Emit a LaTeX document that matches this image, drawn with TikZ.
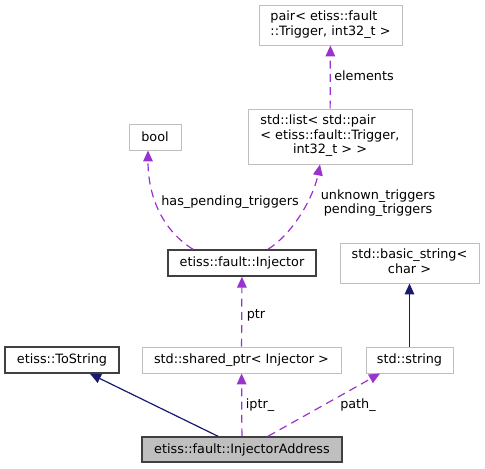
\documentclass[tikz,border=0pt]{standalone}
\usepackage{fontspec}
\setmainfont{DejaVu Sans}
\usepackage{xcolor}
\usetikzlibrary{arrows.meta,calc}
\definecolor{edgepurple}{HTML}{9A32CD}
\definecolor{edgenavy}{HTML}{191970}
\definecolor{boxgray}{HTML}{BFBFBF}
\definecolor{borderdark}{HTML}{404040}

\begin{document}
\begin{tikzpicture}[x=0.75pt,y=-0.75pt,font=\fontsize{9.6}{10.9}\selectfont,
  box/.style={draw=boxgray,line width=0.75pt,align=center,inner sep=0pt},
  cls/.style={box,draw=borderdark,line width=1.1pt},
  wd/.style={minimum width=#1*0.75pt},
  ht/.style={minimum height=#1*0.75pt},
  member/.style={edgepurple,line width=0.9pt,dash pattern=on 6pt off 4pt,-{Triangle[length=8.2pt,width=7.2pt]}},
  inherit/.style={edgenavy,line width=0.9pt,-{Triangle[length=8.2pt,width=7.2pt]}},
  lbl/.style={inner sep=0pt}]
  \useasboundingbox (0,0) rectangle (485,468);
  % classes
  \node[box,wd=143,ht=40] (pair) at (330.5,25) {\begin{tabular}{@{}l@{}}pair< etiss::fault\\\multicolumn{1}{@{}c@{}}{::Trigger, int32\_t >}\end{tabular}};
  \node[box,wd=164,ht=55] (list) at (330,136.5) {\begin{tabular}{@{}l@{}}std::list< std::pair\\< etiss::fault::Trigger,\\\multicolumn{1}{@{}c@{}}{int32\_t > >}\end{tabular}};
  \node[box,wd=52,ht=26] (bool) at (155,137) {bool};
  \node[cls,wd=148,ht=26] (inj) at (242,263) {etiss::fault::Injector};
  \node[box,wd=139,ht=40] (bstr) at (409.5,263) {\begin{tabular}{@{}l@{}}std::basic\_string<\\\multicolumn{1}{@{}c@{}}{char >}\end{tabular}};
  \node[cls,wd=114,ht=26] (ts) at (62,360) {etiss::ToString};
  \node[box,wd=199,ht=26] (sp) at (241.5,360) {std::shared\_ptr< Injector >};
  \node[box,wd=87,ht=26] (str) at (409.5,360) {std::string};
  \node[cls,fill=boxgray,wd=200,ht=25] (addr) at (242,449.5) {etiss::fault::InjectorAddress};
  % edges
  \draw[member] (list) -- (pair);
  \draw[member] ($(inj.north)+(-49,0)$) .. controls (165,232) and (148,200) .. ($(bool.south)+(-7,0)$);
  \draw[member] ($(inj.north)+(26,0)$) .. controls (295,232) and (314,195) .. ($(list.south)+(-10,0)$);
  \draw[member] (sp) -- (inj);
  \draw[inherit] (str) -- (bstr);
  \draw[inherit] ($(addr.north)+(-24,0)$) -- ($(ts.south)+(28,0)$);
  \draw[member] (addr) -- (sp);
  \draw[member] ($(addr.north)+(26,0)$) -- ($(str.south)+(-29.5,0)$);
  % labels
  \node[lbl] (lelem) at (364,76) {elements};
  \node[lbl] (lhas) at (230,202) {has\_pending\_triggers};
  \node[lbl,align=center] (ltrig) at (378,203) {unknown\_triggers\\pending\_triggers};
  \node[lbl] (lptr) at (256,315) {ptr};
  \node[lbl] (liptr) at (260,405) {iptr\_};
  \node[lbl] (lpath) at (358,405) {path\_};
\end{tikzpicture}
\end{document}
